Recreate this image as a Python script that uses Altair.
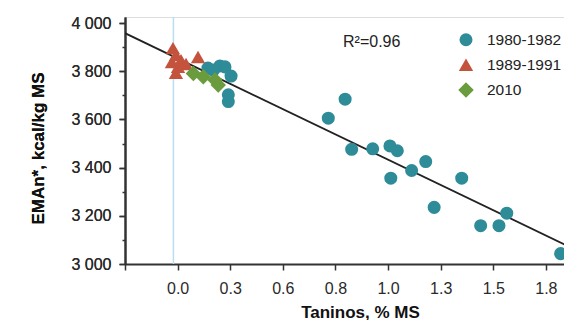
import altair as alt
import pandas as pd

# ---- data ----
s1_x = [0.144, 0.201, 0.225, 0.17, 0.254, 0.241, 0.241, 0.716, 0.796, 0.827, 0.927, 1.009, 1.044,
        1.013, 1.112, 1.179, 1.350, 1.219, 1.564, 1.440, 1.527, 1.820]
s1_y = [3813, 3822, 3818, 3805, 3780, 3702, 3674, 3605, 3684, 3476, 3478, 3490, 3470,
        3356, 3388, 3425, 3356, 3235, 3211, 3159, 3159, 3043]
s2_x = [-0.022, -0.008, -0.027, 0.016, 0.002, 0.04, -0.008, 0.097]
s2_y = [3896, 3867, 3838, 3846, 3818, 3830, 3793, 3859]
s3_x = [0.075, 0.122, 0.178, 0.193]
s3_y = [3791, 3777, 3764, 3743]
series_names = ["1980-1982", "1989-1991", "2010"]
series_colors = ["#2e8b98", "#c4533e", "#6a9b3d"]
series_shapes = ["circle", "triangle-up", "diamond"]
series_sizes = [170, 240, 330]

fit_x = [-0.25, 1.874]
fit_y = [3958, 3066]
r2_label = "R²=0.96"
baseline_x = [-0.02]

x_ticks = [-0.25, 0, 0.25, 0.5, 0.75, 1.0, 1.25, 1.5, 1.75]
x_tick_labels = ["", "0.0", "0.3", "0.6", "0.8", "1.0", "1.3", "1.5", "1.8"]
y_ticks = [3000, 3200, 3400, 3600, 3800, 4000]
y_minor = [3100, 3300, 3500, 3700, 3900]

rows = []
for name, xs, ys in zip(series_names, [s1_x, s2_x, s3_x], [s1_y, s2_y, s3_y]):
    for a, b in zip(xs, ys):
        rows.append({"x": a, "y": b, "serie": name})
pts = pd.DataFrame(rows)
fit = pd.DataFrame({"x": fit_x, "y": fit_y})

x_label_expr = "".join(
    f"abs(datum.value - ({v})) < 0.001 ? '{t}' : " for v, t in zip(x_ticks, x_tick_labels)
) + "''"

FONT = "Liberation Sans"
xscale = alt.Scale(domain=[-0.25, 1.836], nice=False, zero=False)
yscale = alt.Scale(domain=[3000, 4025], nice=False, zero=False)

xaxis = alt.Axis(values=x_ticks, labelExpr=x_label_expr,
                 title="Taninos, % MS", titleFont=FONT, titleFontSize=17, titleFontWeight="bold",
                 titleColor="#111", titleX=235, titleY=53, titleBaseline="alphabetic",
                 titleAnchor="middle",
                 labelFont=FONT, labelFontSize=16, labelColor="#2a2a2a", labelPadding=10,
                 tickSize=6, tickColor="#333", tickWidth=1.5, domainColor="#333", domainWidth=2,
                 grid=False)
yaxis = alt.Axis(values=y_ticks, orient="left",
                 labelExpr="replace(format(datum.value, ','), ',', ' ')",
                 title="EMAn*, kcal/kg MS", titleFont=FONT, titleFontSize=17, titleFontWeight="bold",
                 titleColor="#111", titleAngle=270, titleX=-82, titleY=131, titleBaseline="alphabetic",
                 titleAlign="center",
                 labelFont=FONT, labelFontSize=16, labelColor="#2a2a2a", labelPadding=8,
                 tickSize=6, tickColor="#333", tickWidth=1.5, domainColor="#333", domainWidth=2,
                 grid=False)
yaxis_minor = alt.Axis(values=y_minor, labels=False, title=None, orient="left",
                       tickSize=3, tickColor="#333", tickWidth=1.5, domain=False, grid=False)

line = alt.Chart(fit).mark_line(color="#222", strokeWidth=1.8, clip=True).encode(
    x=alt.X("x:Q", scale=xscale, axis=xaxis),
    y=alt.Y("y:Q", scale=yscale, axis=yaxis),
)
vline = alt.Chart(pd.DataFrame({"x": baseline_x})).mark_rule(color="#b9def3", strokeWidth=1.5).encode(
    x=alt.X("x:Q", scale=xscale, axis=xaxis)
)
minor = alt.Chart(pd.DataFrame({"y": y_minor})).mark_point(opacity=0).encode(
    y=alt.Y("y:Q", scale=yscale, axis=yaxis_minor)
)
leg = alt.Legend(title=None, orient="none", legendX=333, legendY=15,
                 labelFont=FONT, labelFontSize=15.5, labelColor="#222",
                 rowPadding=8, labelOffset=13, symbolStrokeWidth=0)
points = alt.Chart(pts).mark_point(filled=True, opacity=1).encode(
    x=alt.X("x:Q", scale=xscale, axis=xaxis),
    y=alt.Y("y:Q", scale=yscale, axis=yaxis),
    color=alt.Color("serie:N", scale=alt.Scale(domain=series_names, range=series_colors), legend=leg),
    shape=alt.Shape("serie:N", scale=alt.Scale(domain=series_names, range=series_shapes), legend=leg),
    size=alt.Size("serie:N", scale=alt.Scale(domain=series_names, range=series_sizes), legend=leg),
)
r2 = alt.Chart(pd.DataFrame({"t": [r2_label]})).mark_text(
    font=FONT, fontSize=16, color="#222", align="left", baseline="middle"
).encode(text="t:N", x=alt.value(218), y=alt.value(25))

chart = alt.layer(line, vline, minor, points, r2).resolve_axis(y="independent").properties(
    width=439, height=247,
    autosize=alt.AutoSizeParams(type="none"),
    padding={"left": 117, "top": 9, "right": 0, "bottom": 56},
).configure_view(stroke=None).configure(background="white")

chart.save("out.html", embed_options={"renderer": "svg", "actions": False})
